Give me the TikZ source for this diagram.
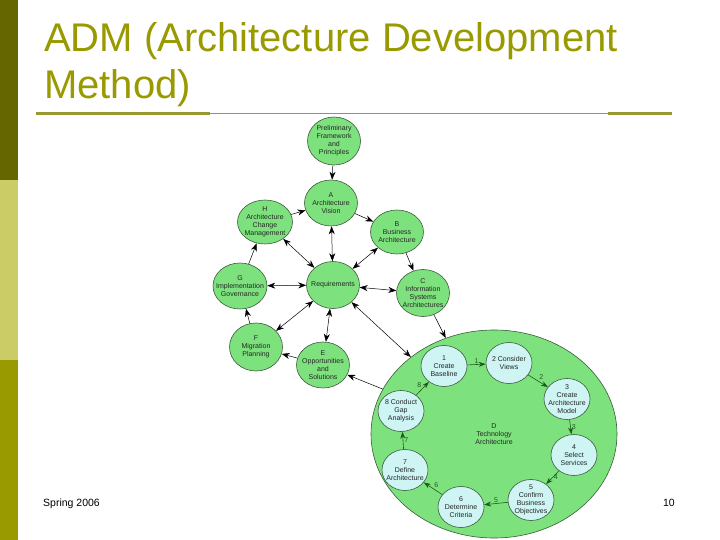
\documentclass[tikz,border=0pt]{standalone}
\usepackage{fontspec}
\setmainfont{Liberation Sans}
\usetikzlibrary{shapes.geometric,arrows.meta}
\definecolor{barA}{HTML}{666600}
\definecolor{barB}{HTML}{CCCC66}
\definecolor{barC}{HTML}{999900}
\definecolor{titlecol}{HTML}{999900}
\definecolor{rulecol}{HTML}{999933}
\definecolor{nodegreen}{RGB}{125,226,125}
\definecolor{nodecyan}{RGB}{206,244,244}
\definecolor{edgecol}{RGB}{60,90,60}
\definecolor{inarrcol}{RGB}{30,90,30}
\tikzset{
  txt/.style={align=center,inner sep=0pt,font=\fontsize{7}{8}\selectfont,text=black!85},
  outer/.style={ellipse,draw=edgecol,line width=0.6pt,fill=nodegreen,minimum width=53pt,minimum height=46pt,inner sep=0pt},
  inner/.style={ellipse,draw=edgecol,line width=0.6pt,fill=nodecyan,minimum width=46pt,minimum height=41pt,inner sep=0pt},
  big/.style={ellipse,draw=edgecol,line width=0.6pt,fill=nodegreen,minimum width=246pt,minimum height=208pt,inner sep=0pt},
  oarr/.style={draw=black!70,line width=0.5pt,-{Stealth[length=8pt,width=6pt]},black},
  barr/.style={draw=black!70,line width=0.5pt,{Stealth[length=8pt,width=6pt]}-{Stealth[length=8pt,width=6pt]},black},
  iarr/.style={draw=inarrcol,line width=0.6pt,-{Stealth[length=7pt,width=5pt]},inarrcol},
  ilbl/.style={font=\fontsize{7}{7}\selectfont,text=inarrcol,inner sep=1pt}
}
\begin{document}
\begin{tikzpicture}[x=1pt,y=-1pt]
\useasboundingbox (0,0) rectangle (720,540);
% left bar
\fill[barA] (0,0) rectangle (18,180);
\fill[barB] (0,180) rectangle (18,360);
\fill[barC] (0,360) rectangle (18,540);
% title
\node[anchor=base west,inner sep=0pt,font=\fontsize{40}{47}\selectfont,text=titlecol] (t1) at (44,52) {ADM (Architecture Development};
\node[anchor=base west,inner sep=0pt,font=\fontsize{40}{47}\selectfont,text=titlecol] (t2) at (44,99) {Method)};
\draw[rulecol,line width=1pt] (36,114) -- (672,114);
\draw[rulecol,line width=3pt] (36,114) -- (210,114);
\draw[rulecol,line width=3pt] (608,114) -- (672,114);
% footer
\node[anchor=base west,inner sep=0pt,font=\fontsize{10.5}{12}\selectfont] (f1) at (43,506) {Spring 2006};
\node[anchor=base east,inner sep=0pt,font=\fontsize{10.5}{12}\selectfont] (f2) at (675,506) {10};
% big D
\node[big,label={[txt]center:{D\\Technology\\Architecture}}] (D) at (494,434) {};
% outer nodes
\node[outer,minimum height=48pt,label={[txt]center:{Preliminary\\Framework\\and\\Principles}}] (P) at (334,141) {};
\node[outer,label={[txt]center:{A\\Architecture\\Vision}}] (A) at (331,203) {};
\node[outer,minimum width=55pt,minimum height=44pt,label={[txt]center:{H\\Architecture\\Change\\Management}}] (H) at (265,222) {};
\node[outer,minimum height=44pt,label={[txt]center:{B\\Business\\Architecture}}] (B) at (397,232) {};
\node[outer,minimum width=54pt,label={[txt]center:{G\\Implementation\\Governance}}] (G) at (240,286) {};
\node[outer,minimum height=47pt,label={[txt]center:{Requirements}}] (R) at (333,285) {};
\node[outer,minimum height=47pt,label={[txt]center:{C\\Information\\Systems\\Architectures}}] (C) at (423,293) {};
\node[outer,minimum height=48pt,label={[txt]center:{F\\Migration\\Planning}}] (F) at (256,347) {};
\node[outer,label={[txt]center:{E\\Opportunities\\and\\Solutions}}] (E) at (323,365) {};
% inner nodes
\node[inner,label={[txt]center:{1\\Create\\Baseline}}] (n1) at (444,366) {};
\node[inner,label={[txt]center:{2 Consider\\Views}}] (n2) at (509,363) {};
\node[inner,label={[txt]center:{3\\Create\\Architecture\\Model}}] (n3) at (567,399) {};
\node[inner,label={[txt]center:{4\\Select\\Services}}] (n4) at (574,455) {};
\node[inner,label={[txt]center:{5\\Confirm\\Business\\Objectives}}] (n5) at (531,500) {};
\node[inner,label={[txt]center:{6\\Determine\\Criteria}}] (n6) at (461,507) {};
\node[inner,label={[txt]center:{7\\Define\\Architecture}}] (n7) at (405,470) {};
\node[inner,label={[txt]center:{8 Conduct\\Gap\\Analysis}}] (n8) at (401,411) {};
% outer connectors
\draw[oarr] (P) -- (A);
\draw[oarr] (H) -- (A);
\draw[oarr] (A) -- (B);
\draw[oarr] (B) -- (C);
\draw[oarr] (C) -- (D);
\draw[oarr] (D) -- (E);
\draw[oarr] (E) -- (F);
\draw[oarr] (F) -- (G);
\draw[oarr] (G) -- (H);
\draw[barr] (R) -- (A);
\draw[barr] (R) -- (B);
\draw[barr] (R) -- (C);
\draw[barr] (R) -- (D);
\draw[barr] (R) -- (E);
\draw[barr] (R) -- (F);
\draw[barr] (R) -- (G);
\draw[barr] (R) -- (H);
% inner connectors
\draw[iarr] (n1) -- (n2) node[ilbl,midway,above] {1};
\draw[iarr] (n2) -- (n3) node[ilbl,midway,above right] {2};
\draw[iarr] (n3) -- (n4) node[ilbl,midway,right] {3};
\draw[iarr] (n4) -- (n5) node[ilbl,midway,right] {4};
\draw[iarr] (n5) -- (n6) node[ilbl,midway,above] {5};
\draw[iarr] (n6) -- (n7) node[ilbl,midway,above right] {6};
\draw[iarr] (n7) -- (n8) node[ilbl,midway,right] {7};
\draw[iarr] (n8) -- (n1) node[ilbl,midway,above left] {8};
\end{tikzpicture}
\end{document}
